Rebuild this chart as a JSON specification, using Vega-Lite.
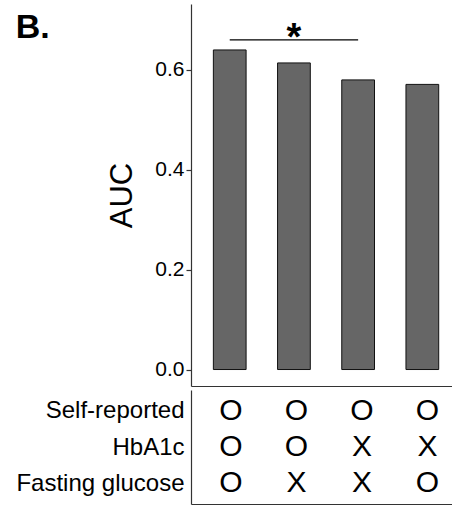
{
  "$schema": "https://vega.github.io/schema/vega-lite/v6.json",
  "background": "white",
  "padding": {"left": 15, "top": 4, "right": 0, "bottom": 1},
  "config": {
    "view": {"stroke": null},
    "font": "Liberation Sans",
    "axis": {
      "grid": false,
      "domainColor": "#333333",
      "domainWidth": 1.2,
      "tickColor": "#333333",
      "tickWidth": 1.2,
      "labelColor": "black",
      "titleColor": "black",
      "labelFont": "Liberation Sans",
      "titleFont": "Liberation Sans"
    }
  },
  "spacing": 4,
  "vconcat": [
    {
      "width": 262,
      "height": 382,
      "title": {
        "text": "B.",
        "orient": "left",
        "anchor": "end",
        "frame": "group",
        "angle": 0,
        "align": "right",
        "baseline": "alphabetic",
        "offset": 23,
        "dy": 34,
        "font": "Liberation Sans",
        "fontSize": 34,
        "fontWeight": "bold",
        "color": "black"
      },
      "layer": [
        {
          "data": {
            "values": [
              {"model": "Model 1", "auc": 0.640},
              {"model": "Model 2", "auc": 0.614},
              {"model": "Model 3", "auc": 0.580},
              {"model": "Model 4", "auc": 0.571}
            ]
          },
          "mark": {"type": "bar", "fill": "#666666", "stroke": "#111111", "strokeWidth": 1},
          "encoding": {
            "x": {
              "field": "model",
              "type": "nominal",
              "scale": {
                "domain": ["Model 1", "Model 2", "Model 3", "Model 4"],
                "paddingInner": 0.49,
                "paddingOuter": 0.2855,
                "align": 0.61
              },
              "axis": {"labels": false, "ticks": false, "title": null}
            },
            "y": {
              "field": "auc",
              "type": "quantitative",
              "scale": {"domain": [-0.033, 0.732], "nice": false, "zero": false},
              "axis": {
                "values": [0, 0.2, 0.4, 0.6],
                "format": ".1f",
                "title": "AUC",
                "titleFontSize": 31,
                "titleFontWeight": "normal",
                "titlePadding": 16,
                "labelFontSize": 21,
                "labelPadding": 2,
                "tickSize": 5
              }
            }
          }
        },
        {
          "data": {
            "values": [
              {"model": "Model 1", "auc": 0.66},
              {"model": "Model 3", "auc": 0.66}
            ]
          },
          "mark": {"type": "line", "color": "black", "strokeWidth": 1.2},
          "encoding": {
            "x": {"field": "model", "type": "nominal"},
            "y": {"field": "auc", "type": "quantitative"}
          }
        },
        {
          "data": {"values": [{"model": "Model 2", "auc": 0.66, "label": "*"}]},
          "mark": {"type": "text", "fontSize": 38, "fontWeight": "bold", "baseline": "alphabetic", "dy": 10, "color": "black"},
          "encoding": {
            "x": {"field": "model", "type": "nominal"},
            "y": {"field": "auc", "type": "quantitative"},
            "text": {"field": "label"}
          }
        }
      ]
    },
    {
      "width": 262,
      "height": 114,
      "data": {
        "values": [
          {"model": "Model 1", "feature": "Self-reported", "used": "O"},
          {"model": "Model 2", "feature": "Self-reported", "used": "O"},
          {"model": "Model 3", "feature": "Self-reported", "used": "O"},
          {"model": "Model 4", "feature": "Self-reported", "used": "O"},
          {"model": "Model 1", "feature": "HbA1c", "used": "O"},
          {"model": "Model 2", "feature": "HbA1c", "used": "O"},
          {"model": "Model 3", "feature": "HbA1c", "used": "X"},
          {"model": "Model 4", "feature": "HbA1c", "used": "X"},
          {"model": "Model 1", "feature": "Fasting glucose", "used": "O"},
          {"model": "Model 2", "feature": "Fasting glucose", "used": "X"},
          {"model": "Model 3", "feature": "Fasting glucose", "used": "X"},
          {"model": "Model 4", "feature": "Fasting glucose", "used": "O"}
        ]
      },
      "mark": {"type": "text", "fontSize": 30, "baseline": "middle", "color": "black"},
      "encoding": {
        "x": {
          "field": "model",
          "type": "nominal",
          "scale": {
            "domain": ["Model 1", "Model 2", "Model 3", "Model 4"],
            "paddingInner": 0.49,
            "paddingOuter": 0.2855,
            "align": 0.61
          },
          "axis": {"labels": false, "ticks": false, "title": null}
        },
        "y": {
          "field": "feature",
          "type": "nominal",
          "scale": {"type": "point", "domain": ["Self-reported", "HbA1c", "Fasting glucose"], "padding": 0.575},
          "axis": {"title": null, "ticks": false, "labelFontSize": 24, "labelPadding": 7}
        },
        "text": {"field": "used"}
      }
    }
  ]
}
